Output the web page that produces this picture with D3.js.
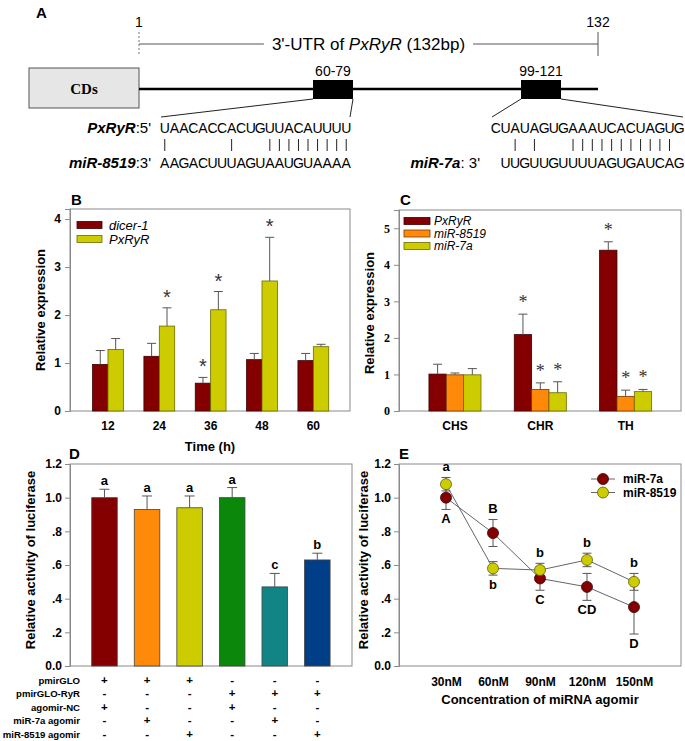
<!DOCTYPE html>
<html lang="en">
<head>
<meta charset="utf-8">
<title>PxRyR and miRNA figure</title>
<script src="https://cdn.jsdelivr.net/npm/d3@7/dist/d3.min.js"></script>
<style>
  body { margin: 0; background: #fff; }
  text { font-family: Arial, "Liberation Sans", sans-serif; }
</style>
</head>
<body>
<script>
// ---------- data ----------
// A: 3'-UTR map
var utrLength = 132;
var site1 = "60-79", site2 = "99-121";
var seqRyR1 = "UAACACCACUGUUACAUUUU";
var seq8519 = "AAGACUUUAGUAAUGUAAAA";
var pairs8519 = [0, 7, 11, 12, 13, 14, 15, 16, 17, 18, 19];
var seqRyR2 = "CUAUAGUGAAAUCACUAGUG";
var seq7a = "UUGUUGUUUUAGUGAUCAG";
var pairs7a = [2, 4, 8, 9, 10, 11, 12, 13, 14, 15, 16, 17, 18];

// B: expression over time
var timeCats = ["12", "24", "36", "48", "60"];
var dicerMean = [0.97, 1.14, 0.58, 1.07, 1.05];
var dicerErr  = [0.29, 0.27, 0.12, 0.13, 0.15];
var dicerSig  = [false, false, true, false, false];
var ryrMean   = [1.28, 1.77, 2.11, 2.71, 1.34];
var ryrErr    = [0.23, 0.38, 0.38, 0.91, 0.05];
var ryrSig    = [false, true, true, true, false];

// C: expression by strain
var strainCats = ["CHS", "CHR", "TH"];
var cRyrMean  = [1.01, 2.09, 4.40];
var cRyrErr   = [0.27, 0.56, 0.23];
var c8519Mean = [0.99, 0.59, 0.40];
var c8519Err  = [0.05, 0.18, 0.17];
var c7aMean   = [0.99, 0.50, 0.53];
var c7aErr    = [0.17, 0.30, 0.06];
var cSig      = [false, true, true];

// D: luciferase assay
var lucMean    = [1.00, 0.93, 0.94, 1.00, 0.47, 0.63];
var lucErr     = [0.05, 0.08, 0.07, 0.06, 0.08, 0.04];
var lucLetters = ["a", "a", "a", "a", "c", "b"];
var lucColors  = ["#840000", "#ff8a0a", "#cccc00", "#0b870b", "#118585", "#003f88"];
var rowNames   = ["pmirGLO", "pmirGLO-RyR", "agomir-NC", "miR-7a agomir", "miR-8519 agomir"];
var rowSigns   = [
  ["+", "+", "+", "-", "-", "-"],
  ["-", "-", "-", "+", "+", "+"],
  ["+", "-", "-", "+", "-", "-"],
  ["-", "+", "-", "-", "+", "-"],
  ["-", "-", "+", "-", "-", "+"]
];

// E: dose response
var concCats    = ["30nM", "60nM", "90nM", "120nM", "150nM"];
var e7aMean     = [1.00, 0.79, 0.52, 0.47, 0.35];
var e7aErr      = [0.07, 0.08, 0.07, 0.08, 0.16];
var e7aLetters  = ["A", "B", "C", "CD", "D"];
var e7aSide     = ["below", "above", "below", "below", "below"];
var e8519Mean   = [1.08, 0.58, 0.57, 0.63, 0.50];
var e8519Err    = [0.04, 0.04, 0.04, 0.04, 0.05];
var e8519Letters = ["a", "b", "b", "b", "b"];
var e8519Side   = ["above", "below", "above", "above", "above"];

// ---------- setup ----------
var darkRed = "#840000", yellow = "#cccc00", orange = "#ff8a0a";
var axisGrey = "#8a8a8a";
var serif = "'Times New Roman', 'Liberation Serif', serif";

var svg = d3.select("body").append("svg")
  .attr("width", 685).attr("height", 741);
svg.append("rect").attr("width", 685).attr("height", 741).attr("fill", "#fff");

function panelLetter(x, y, t) {
  svg.append("text").attr("x", x).attr("y", y)
    .style("font-size", "15px").style("font-weight", "bold").text(t);
}
function frame(x0, y0, x1, y1) {
  svg.append("rect").attr("x", x0).attr("y", y0)
    .attr("width", x1 - x0).attr("height", y1 - y0)
    .attr("fill", "none").attr("stroke", axisGrey).attr("stroke-width", 1);
}
function yTitle(x, cy, t) {
  svg.append("text").attr("transform", "translate(" + x + "," + cy + ") rotate(-90)")
    .attr("text-anchor", "middle").style("font-size", "13px").style("font-weight", "bold").text(t);
}
function styleAxis(g, fontFamily) {
  g.select(".domain").attr("stroke", axisGrey);
  g.selectAll(".tick line").attr("stroke", axisGrey);
  g.selectAll(".tick text").attr("fill", "#000")
    .style("font-size", "12px").style("font-weight", "bold")
    .style("font-family", fontFamily || null);
}
function star(x, capY, size, fam) {
  svg.append("text").attr("x", x).attr("y", capY - 4)
    .attr("text-anchor", "middle").style("font-size", size + "px")
    .style("font-family", fam || null).attr("fill", "#333").text("*");
}
function errUp(x, top, base, half) {
  svg.append("line").attr("x1", x).attr("x2", x).attr("y1", base).attr("y2", top)
    .attr("stroke", "#555").attr("stroke-width", 1);
  svg.append("line").attr("x1", x - half).attr("x2", x + half).attr("y1", top).attr("y2", top)
    .attr("stroke", "#555").attr("stroke-width", 1);
}

// ---------- A ----------
panelLetter(36, 18, "A");
var utr = d3.scaleLinear().domain([1, 69.5, 110, utrLength]).range([139, 333, 541, 598]);
var rulerY = 44;
svg.append("text").attr("x", utr(1)).attr("y", 27).attr("text-anchor", "middle")
  .style("font-size", "14px").text("1");
svg.append("text").attr("x", utr(utrLength)).attr("y", 27).attr("text-anchor", "middle")
  .style("font-size", "14px").text(String(utrLength));
var utrLabel = svg.append("text").attr("x", (utr(1) + utr(utrLength)) / 2).attr("y", rulerY + 6)
  .attr("text-anchor", "middle").style("font-size", "17px");
utrLabel.append("tspan").text("3'-UTR of ");
utrLabel.append("tspan").style("font-style", "italic").text("PxRyR");
utrLabel.append("tspan").text(" (132bp)");
var lb = utrLabel.node().getBBox();
svg.append("line").attr("x1", utr(1)).attr("x2", lb.x - 8).attr("y1", rulerY).attr("y2", rulerY)
  .attr("stroke", "#555");
svg.append("line").attr("x1", lb.x + lb.width + 8).attr("x2", utr(utrLength)).attr("y1", rulerY).attr("y2", rulerY)
  .attr("stroke", "#555");
svg.append("line").attr("x1", utr(1)).attr("x2", utr(1)).attr("y1", 32).attr("y2", 56)
  .attr("stroke", "#777").attr("stroke-dasharray", "2,2");
svg.append("line").attr("x1", utr(utrLength)).attr("x2", utr(utrLength)).attr("y1", 32).attr("y2", 56)
  .attr("stroke", "#555");

// CDs box and UTR line
var lineY = 89;
svg.append("rect").attr("x", 29).attr("y", 68).attr("width", utr(1) - 29).attr("height", 40)
  .attr("fill", "#e6e6e6").attr("stroke", "#555");
svg.append("text").attr("x", (29 + utr(1)) / 2).attr("y", 94).attr("text-anchor", "middle")
  .style("font-family", serif).style("font-weight", "bold").style("font-size", "15px").text("CDs");
svg.append("line").attr("x1", utr(1)).attr("x2", utr(utrLength)).attr("y1", lineY).attr("y2", lineY)
  .attr("stroke", "#000").attr("stroke-width", 2.5);

var sites = [
  { label: site1, range: [60, 79], top: seqRyR1, bot: seq8519, pairs: pairs8519, x0: 160, x1: 351, botOffset: 0 },
  { label: site2, range: [99, 121], top: seqRyR2, bot: seq7a, pairs: pairs7a, x0: 491, x1: 684, botOffset: 1 }
];
var seqTopY = 133, pipeY0 = 139, pipeY1 = 151, seqBotY = 168;
sites.forEach(function (s) {
  var cx = utr((s.range[0] + s.range[1]) / 2);
  svg.append("rect").attr("x", cx - 20).attr("y", 80).attr("width", 40).attr("height", 19).attr("fill", "#000");
  svg.append("text").attr("x", cx).attr("y", 76).attr("text-anchor", "middle")
    .style("font-size", "14px").text(s.label);
  var cs = d3.scaleBand().domain(d3.range(s.top.length)).range([s.x0, s.x1]);
  svg.append("line").attr("x1", cx - 20).attr("y1", 99).attr("x2", s.x0 + 1).attr("y2", 117).attr("stroke", "#222");
  svg.append("line").attr("x1", cx + 20).attr("y1", 99).attr("x2", s.x1 - 1).attr("y2", 117).attr("stroke", "#222");
  s.top.split("").forEach(function (ch, i) {
    svg.append("text").attr("x", cs(i) + cs.bandwidth() / 2).attr("y", seqTopY)
      .attr("text-anchor", "middle").style("font-size", "14px").text(ch);
  });
  s.bot.split("").forEach(function (ch, i) {
    svg.append("text").attr("x", cs(i + s.botOffset) + cs.bandwidth() / 2).attr("y", seqBotY)
      .attr("text-anchor", "middle").style("font-size", "14px").text(ch);
  });
  s.pairs.forEach(function (i) {
    var px = cs(i) + cs.bandwidth() / 2;
    svg.append("line").attr("x1", px).attr("x2", px).attr("y1", pipeY0).attr("y2", pipeY1).attr("stroke", "#222");
  });
});
function seqLabel(xRight, y, name, end) {
  var t = svg.append("text").attr("x", xRight).attr("y", y).attr("text-anchor", "end")
    .style("font-size", "15px");
  t.append("tspan").style("font-style", "italic").style("font-weight", "bold").text(name);
  t.append("tspan").text(end);
}
seqLabel(151, seqTopY, "PxRyR", ":5'");
seqLabel(151, seqBotY, "miR-8519", ":3'");
seqLabel(480, seqBotY, "miR-7a", ":  3'");

// ---------- B ----------
panelLetter(71, 205, "B");
var bL = 70, bR = 350, bT = 209, bB = 411;
frame(bL, bT, bR, bB);
var bX = d3.scaleBand().domain(timeCats).range([82.3, 339]).paddingInner(0.4).paddingOuter(0.2);
var bSub = d3.scaleBand().domain(["dicer", "ryr"]).range([0, bX.bandwidth()]);
var bY = d3.scaleLinear().domain([0, 4.21]).range([bB, bT]);
var bAxisY = svg.append("g").attr("transform", "translate(" + bL + ",0)")
  .call(d3.axisLeft(bY).tickValues([0, 1, 2, 3, 4]).tickFormat(d3.format("d")).tickSize(5).tickPadding(4));
styleAxis(bAxisY);
var bAxisX = svg.append("g").attr("transform", "translate(0," + bB + ")")
  .call(d3.axisBottom(bX).tickSize(0).tickPadding(10));
bAxisX.select(".domain").remove();
styleAxis(bAxisX);
svg.append("text").attr("x", (bL + bR) / 2).attr("y", 451).attr("text-anchor", "middle")
  .style("font-size", "13px").style("font-weight", "bold").text("Time (h)");
yTitle(45, 310, "Relative expression");

[["dicer", dicerMean, dicerErr, dicerSig, darkRed, "#3a0000"],
 ["ryr", ryrMean, ryrErr, ryrSig, yellow, "#6b6b00"]].forEach(function (s) {
  timeCats.forEach(function (c, i) {
    var x = bX(c) + bSub(s[0]);
    svg.append("rect").attr("x", x).attr("y", bY(s[1][i]))
      .attr("width", bSub.bandwidth()).attr("height", bB - bY(s[1][i]))
      .attr("fill", s[4]).attr("stroke", s[5]).attr("stroke-width", 0.8);
    var cap = bY(s[1][i] + s[2][i]);
    errUp(x + bSub.bandwidth() / 2, cap, bY(s[1][i]), 4.5);
    if (s[3][i]) star(x + bSub.bandwidth() / 2, cap, 20);
  });
});
// legend B
[["dicer-1", darkRed, "#3a0000"], ["PxRyR", yellow, "#6b6b00"]].forEach(function (d, i) {
  var y = 225 + i * 14;
  svg.append("rect").attr("x", 77).attr("y", y - 3.5).attr("width", 25).attr("height", 7)
    .attr("fill", d[1]).attr("stroke", d[2]).attr("stroke-width", 0.8);
  svg.append("text").attr("x", 109).attr("y", y + 4.5).style("font-size", "13px")
    .style("font-style", "italic").text(d[0]);
});

// ---------- C ----------
panelLetter(400, 205, "C");
var cL = 399, cR = 681, cT = 210, cB = 411;
frame(cL, cT, cR, cB);
var cX = d3.scaleBand().domain(strainCats).range([412.3, 668.3]).paddingInner(0.39).paddingOuter(0.195);
var cSub = d3.scaleBand().domain(["ryr", "m8519", "m7a"]).range([0, cX.bandwidth()]);
var cY = d3.scaleLinear().domain([0, 5.5]).range([cB, cT]);
var cAxisY = svg.append("g").attr("transform", "translate(" + cL + ",0)")
  .call(d3.axisLeft(cY).tickValues([0, 1, 2, 3, 4, 5]).tickFormat(d3.format("d")).tickSize(5).tickPadding(4));
styleAxis(cAxisY, serif);
var cAxisX = svg.append("g").attr("transform", "translate(0," + cB + ")")
  .call(d3.axisBottom(cX).tickSize(0).tickPadding(10));
cAxisX.select(".domain").remove();
styleAxis(cAxisX);
yTitle(374, 313, "Relative expression");

[["ryr", cRyrMean, cRyrErr, darkRed, "#3a0000"],
 ["m8519", c8519Mean, c8519Err, orange, "#7a3a00"],
 ["m7a", c7aMean, c7aErr, yellow, "#6b6b00"]].forEach(function (s) {
  strainCats.forEach(function (c, i) {
    var x = cX(c) + cSub(s[0]);
    svg.append("rect").attr("x", x).attr("y", cY(s[1][i]))
      .attr("width", cSub.bandwidth()).attr("height", cB - cY(s[1][i]))
      .attr("fill", s[3]).attr("stroke", s[4]).attr("stroke-width", 0.8);
    var cap = cY(s[1][i] + s[2][i]);
    errUp(x + cSub.bandwidth() / 2, cap, cY(s[1][i]), 4.5);
    if (cSig[i]) star(x + cSub.bandwidth() / 2, cap - 2, 18, serif);
  });
});
[["PxRyR", darkRed, "#3a0000"], ["miR-8519", orange, "#7a3a00"], ["miR-7a", yellow, "#6b6b00"]].forEach(function (d, i) {
  var y = 221 + i * 12.5;
  svg.append("rect").attr("x", 404).attr("y", y - 3.5).attr("width", 26).attr("height", 7)
    .attr("fill", d[1]).attr("stroke", d[2]).attr("stroke-width", 0.8);
  svg.append("text").attr("x", 434).attr("y", y + 4).style("font-size", "12px")
    .style("font-style", "italic").text(d[0]);
});

// ---------- D ----------
function lucFormat(v) {
  var s = d3.format(".1f")(v);
  return (v > 0 && v < 1) ? s.slice(1) : s;
}
panelLetter(69, 459, "D");
var dL = 70, dR = 352, dT = 464, dB = 666;
frame(dL, dT, dR, dB);
var dX = d3.scaleBand().domain(d3.range(lucMean.length)).range([83.2, 338.6]).paddingInner(0.4).paddingOuter(0.2);
var dY = d3.scaleLinear().domain([0, 1.2]).range([dB, dT]);
var dAxisY = svg.append("g").attr("transform", "translate(" + dL + ",0)")
  .call(d3.axisLeft(dY).tickValues([0, 0.2, 0.4, 0.6, 0.8, 1.0, 1.2]).tickFormat(lucFormat).tickSize(5).tickPadding(3));
styleAxis(dAxisY);
yTitle(35, 560, "Relative activity of luciferase");
lucMean.forEach(function (m, i) {
  svg.append("rect").attr("x", dX(i)).attr("y", dY(m))
    .attr("width", dX.bandwidth()).attr("height", dB - dY(m))
    .attr("fill", lucColors[i]).attr("stroke", "#444").attr("stroke-width", 0.8);
  var cap = dY(m + lucErr[i]);
  errUp(dX(i) + dX.bandwidth() / 2, cap, dY(m), 5);
  svg.append("text").attr("x", dX(i) + dX.bandwidth() / 2).attr("y", cap - 4)
    .attr("text-anchor", "middle").style("font-size", "13px").style("font-weight", "bold").text(lucLetters[i]);
});
rowNames.forEach(function (name, r) {
  var y = 684 + r * 13.4;
  svg.append("text").attr("x", 80).attr("y", y).attr("text-anchor", "end")
    .style("font-size", "9.6px").style("font-weight", "bold").text(name);
  rowSigns[r].forEach(function (sg, i) {
    svg.append("text").attr("x", dX(i) + dX.bandwidth() / 2).attr("y", y)
      .attr("text-anchor", "middle").style("font-size", "11.5px").style("font-weight", "bold").text(sg);
  });
});

// ---------- E ----------
panelLetter(399, 459, "E");
var eL = 399, eR = 681, eT = 464, eB = 666;
frame(eL, eT, eR, eB);
var eX = d3.scalePoint().domain(concCats).range([eL, eR]).padding(1);
var eY = d3.scaleLinear().domain([0, 1.2]).range([eB, eT]);
var eAxisY = svg.append("g").attr("transform", "translate(" + eL + ",0)")
  .call(d3.axisLeft(eY).tickValues([0, 0.2, 0.4, 0.6, 0.8, 1.0, 1.2]).tickFormat(lucFormat).tickSize(5).tickPadding(3));
styleAxis(eAxisY);
var eAxisX = svg.append("g").attr("transform", "translate(0," + eB + ")")
  .call(d3.axisBottom(eX).tickSize(0).tickPadding(11));
eAxisX.select(".domain").remove();
styleAxis(eAxisX);
svg.append("text").attr("x", (eL + eR) / 2).attr("y", 704).attr("text-anchor", "middle")
  .style("font-size", "13px").style("font-weight", "bold").text("Concentration of miRNA agomir");
yTitle(368, 560, "Relative activity of luciferase");

var eSeries = [
  { mean: e7aMean, err: e7aErr, letters: e7aLetters, side: e7aSide, fill: darkRed, stroke: "#3a0000", name: "miR-7a" },
  { mean: e8519Mean, err: e8519Err, letters: e8519Letters, side: e8519Side, fill: yellow, stroke: "#5e5e00", name: "miR-8519" }
];
var eLine = d3.line().x(function (d, i) { return eX(concCats[i]); }).y(function (d) { return eY(d); });
eSeries.forEach(function (s) {
  svg.append("path").attr("d", eLine(s.mean)).attr("fill", "none").attr("stroke", "#666").attr("stroke-width", 1);
});
eSeries.forEach(function (s) {
  s.mean.forEach(function (m, i) {
    var x = eX(concCats[i]);
    [m + s.err[i], m - s.err[i]].forEach(function (v) {
      svg.append("line").attr("x1", x).attr("x2", x).attr("y1", eY(m)).attr("y2", eY(v)).attr("stroke", "#555");
      svg.append("line").attr("x1", x - 4.5).attr("x2", x + 4.5).attr("y1", eY(v)).attr("y2", eY(v)).attr("stroke", "#555");
    });
  });
});
eSeries.forEach(function (s) {
  s.mean.forEach(function (m, i) {
    var x = eX(concCats[i]);
    svg.append("circle").attr("cx", x).attr("cy", eY(m)).attr("r", 5.5)
      .attr("fill", s.fill).attr("stroke", s.stroke).attr("stroke-width", 0.8);
    var ly = s.side[i] === "above" ? eY(m + s.err[i]) - 11 : eY(m - s.err[i]) + 9;
    svg.append("text").attr("x", x).attr("y", ly).attr("dy", "0.35em").attr("text-anchor", "middle")
      .style("font-size", "13px").style("font-weight", "bold").text(s.letters[i]);
  });
});
eSeries.forEach(function (s, i) {
  var y = 479 + i * 13.5;
  svg.append("line").attr("x1", 591).attr("x2", 615).attr("y1", y).attr("y2", y).attr("stroke", "#666");
  svg.append("circle").attr("cx", 603).attr("cy", y).attr("r", 5.5)
    .attr("fill", s.fill).attr("stroke", s.stroke).attr("stroke-width", 0.8);
  svg.append("text").attr("x", 623).attr("y", y + 4).style("font-size", "12px")
    .style("font-weight", "bold").text(s.name);
});
</script>
</body>
</html>
